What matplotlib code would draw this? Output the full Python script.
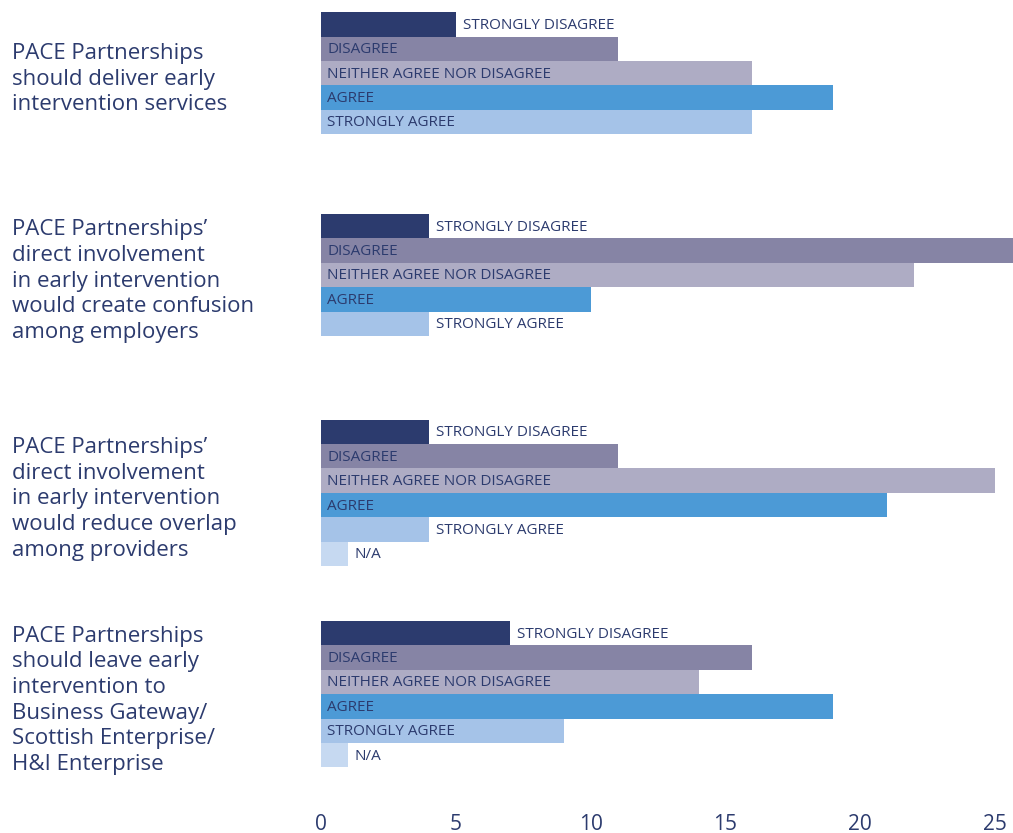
import matplotlib
matplotlib.use('Agg')
import matplotlib.pyplot as plt
import matplotlib.transforms as mtransforms

plt.rcParams['font.family'] = ['Open Sans', 'DejaVu Sans']

# data
questions = [
    "PACE Partnerships\nshould deliver early\nintervention services",
    "PACE Partnerships\u2019\ndirect involvement\nin early intervention\nwould create confusion\namong employers",
    "PACE Partnerships\u2019\ndirect involvement\nin early intervention\nwould reduce overlap\namong providers",
    "PACE Partnerships\nshould leave early\nintervention to\nBusiness Gateway/\nScottish Enterprise/\nH&I Enterprise",
]
responses = ["STRONGLY DISAGREE", "DISAGREE", "NEITHER AGREE NOR DISAGREE",
             "AGREE", "STRONGLY AGREE", "N/A"]
strongly_disagree = [5, 4, 4, 7]
disagree = [11, 26, 11, 16]
neither = [16, 22, 25, 14]
agree = [19, 10, 21, 19]
strongly_agree = [16, 4, 4, 9]
not_applicable = [None, None, 1, 1]

colors = ['#2c3b6e', '#8684a5', '#aeacc4', '#4c9ad6', '#a5c3e8', '#c6d9f1']
navy = '#2c3b6e'

fig = plt.figure(figsize=(10.13, 8.33), dpi=100)
# axes from x=321px to the right edge, from top down to 800px
ax = fig.add_axes([321 / 1013, 33 / 833, 1 - 321 / 1013, 800 / 833])
bar_px = 24.4
ax.set_ylim(800 / bar_px, 0)
ax.set_xlim(0, 25.66)

group_top = [0.5, 8.77, 17.2, 25.45]
series = [strongly_disagree, disagree, neither, agree, strongly_agree, not_applicable]
trans = mtransforms.blended_transform_factory(fig.transFigure, ax.transData)

for g in range(len(questions)):
    n = 0
    for k, vals in enumerate(series):
        v = vals[g]
        if v is None:
            continue
        yc = group_top[g] + k + 0.5
        ax.barh(yc, v, height=1.0, color=colors[k], linewidth=0)
        # long bars carry their label inside, short ones just after the end
        if v >= 8:
            ax.annotate(responses[k], (0, yc), xytext=(6, -1), textcoords='offset pixels',
                        va='center', ha='left', fontsize=11, color=navy)
        else:
            ax.annotate(responses[k], (v, yc), xytext=(7, -1), textcoords='offset pixels',
                        va='center', ha='left', fontsize=11, color=navy)
        n += 1
    ax.text(12 / 1013, group_top[g] + n / 2 + 0.25, questions[g], transform=trans,
            ha='left', va='center', fontsize=16, color=navy, linespacing=1.29)

ax.set_xticks([0, 5, 10, 15, 20, 25])
ax.tick_params(axis='x', length=0, pad=10, labelsize=15, labelcolor=navy)
ax.set_yticks([])
for s in ax.spines.values():
    s.set_visible(False)

fig.savefig('out.png', dpi=100)
